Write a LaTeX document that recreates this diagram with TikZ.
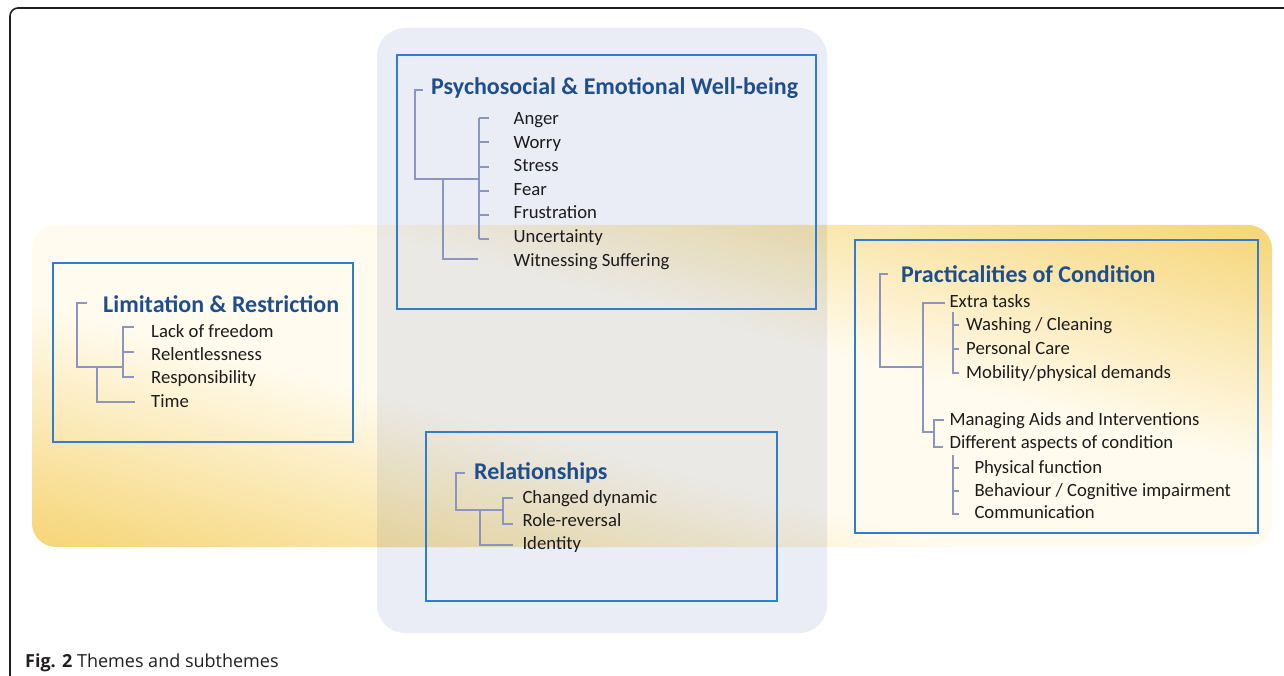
\documentclass[tikz,border=0pt]{standalone}
\usepackage{fontspec}
\setmainfont{Carlito}
\newfontfamily\capfont{Open Sans}
\definecolor{lav}{RGB}{234,237,246}
\definecolor{bandY}{RGB}{246,213,118}
\definecolor{bandM}{RGB}{255,251,239}
\definecolor{boxblue}{RGB}{46,125,209}
\definecolor{ttlblue}{RGB}{31,78,140}
\definecolor{treecol}{RGB}{141,148,189}
\definecolor{txt}{RGB}{28,28,28}
\definecolor{capc}{RGB}{35,31,32}
\pgfdeclareverticalshading{bandshade}{100bp}{color(0bp)=(bandY); color(25bp)=(bandY); color(44bp)=(bandM); color(56bp)=(bandM); color(75bp)=(bandY); color(100bp)=(bandY)}
\begin{document}
\begin{tikzpicture}[x=1pt,y=-1pt,
  item/.style={anchor=base west, inner sep=0pt, font=\fontsize{18.7}{22}\selectfont, text=txt},
  ttl/.style={anchor=base west, inner sep=0pt, font=\fontsize{24}{29}\selectfont\bfseries, text=ttlblue},
  tree/.style={draw=treecol, line width=2pt},
  themebox/.style={draw=boxblue, line width=2pt},
  frameline/.style={draw=capc, line width=1.6pt, rounded corners=8pt}]
\useasboundingbox (0,0) rectangle (1284,676);
\fill[white] (0,0) rectangle (1284,676);

% backgrounds
\fill[lav, rounded corners=28pt] (377,28) rectangle (827,633);
\begin{scope}[blend mode=multiply]
  \clip[rounded corners=24pt] (32,225) rectangle (1272,547);
  \begin{scope}[transform canvas={rotate around={-14.6:(652,386)}}]
    \shade[shading=bandshade] (-200,73.4) rectangle (1500,698.6);
  \end{scope}
\end{scope}

% outer frame
\coordinate (fr0) at (10,680);
\coordinate (fr1) at (10,8);
\coordinate (fr2) at (1290,8);
\draw[frameline] (fr0) -- (fr1) -- (fr2);

% ---------- Psychosocial & Emotional Well-being ----------
\draw[themebox] (397,55) rectangle (816,309);
\node[ttl] (psT) at (431,95) {Psychosocial \& Emotional Well-being};
\node[item] (ps1) at (513.5,125) {Anger};
\node[item] (ps2) at (513.5,148.5) {Worry};
\node[item] (ps3) at (513.5,172) {Stress};
\node[item] (ps4) at (513.5,195.5) {Fear};
\node[item] (ps5) at (513.5,219) {Frustration};
\node[item] (ps6) at (513.5,242.5) {Uncertainty};
\node[item] (ps7) at (513.5,266) {Witnessing Suffering};
\coordinate (psa) at (423,90);
\coordinate (psb) at (415,90);
\coordinate (psc) at (415,179);
\coordinate (psd) at (479,179);
\draw[tree] (psa) -- (psb) -- (psc) -- (psd);
\coordinate (psv0) at (479,118.3);
\coordinate (psv1) at (479,239.3);
\draw[tree] (psv0) -- (psv1);
\foreach \yy in {118.3,142.5,166.7,190.9,215.1,239.3}
  \draw[tree] (479,\yy) -- (489,\yy);
\coordinate (psw0) at (443,179);
\coordinate (psw1) at (443,259.3);
\coordinate (psw2) at (478,259.3);
\draw[tree] (psw0) -- (psw1) -- (psw2);

% ---------- Limitation & Restriction ----------
\draw[themebox] (53,263) rectangle (353,442);
\node[ttl] (lmT) at (103,312) {Limitation \& Restriction};
\node[item] (lm1) at (151,337.3) {Lack of freedom};
\node[item] (lm2) at (151,360.6) {Relentlessness};
\node[item] (lm3) at (151,383.9) {Responsibility};
\node[item] (lm4) at (151,407.2) {Time};
\coordinate (lma) at (87,303);
\coordinate (lmb) at (77,303);
\coordinate (lmc) at (77,367);
\coordinate (lmd) at (123,367);
\draw[tree] (lma) -- (lmb) -- (lmc) -- (lmd);
\coordinate (lme) at (134,327);
\coordinate (lmf) at (123,327);
\coordinate (lmg) at (123,377);
\coordinate (lmh) at (134,377);
\draw[tree] (lme) -- (lmf) -- (lmg) -- (lmh);
\coordinate (lmi) at (123,352);
\coordinate (lmj) at (134,352);
\draw[tree] (lmi) -- (lmj);
\coordinate (lmk) at (97,367);
\coordinate (lml) at (97,402);
\coordinate (lmm) at (135,402);
\draw[tree] (lmk) -- (lml) -- (lmm);

% ---------- Practicalities of Condition ----------
\draw[themebox] (855,240) rectangle (1258,533);
\node[ttl] (prT) at (901,282.7) {Practicalities of Condition};
\node[item] (pr1) at (949.3,307.3) {Extra tasks};
\node[item] (pr2) at (966,330.7) {Washing / Cleaning};
\node[item] (pr3) at (966,354) {Personal Care};
\node[item] (pr4) at (966,378.3) {Mobility/physical demands};
\node[item] (pr5) at (949.3,425) {Managing Aids and Interventions};
\node[item] (pr6) at (949.3,448.3) {Different aspects of condition};
\node[item] (pr7) at (974.3,473.3) {Physical function};
\node[item] (pr8) at (974.3,496) {Behaviour / Cognitive impairment};
\node[item] (pr9) at (974.3,518.8) {Communication};
\coordinate (pra) at (888,274);
\coordinate (prb) at (880,274);
\coordinate (prc) at (880,367);
\coordinate (prd) at (923,367);
\draw[tree] (pra) -- (prb) -- (prc) -- (prd);
\coordinate (pre) at (945,302.7);
\coordinate (prf) at (923,302.7);
\coordinate (prg) at (923,432.3);
\coordinate (prh) at (934,432.3);
\draw[tree] (pre) -- (prf) -- (prg) -- (prh);
\coordinate (pri) at (944,420);
\coordinate (prj) at (934,420);
\coordinate (prk) at (934,447);
\coordinate (prl) at (943,447);
\draw[tree] (pri) -- (prj) -- (prk) -- (prl);
\coordinate (prm) at (953.3,311.7);
\coordinate (prn) at (953.3,373.3);
\coordinate (pro) at (959.3,373.3);
\draw[tree] (prm) -- (prn) -- (pro);
\draw[tree] (953.3,325) -- (959.3,325);
\draw[tree] (953.3,349) -- (959.3,349);
\coordinate (prp) at (953.3,455);
\coordinate (prq) at (953.3,514);
\coordinate (prr) at (959.3,514);
\draw[tree] (prp) -- (prq) -- (prr);
\draw[tree] (953.3,467.7) -- (959.3,467.7);
\draw[tree] (953.3,491) -- (959.3,491);

% ---------- Relationships ----------
\draw[themebox] (426,432) rectangle (777,601);
\node[ttl] (rlT) at (474,479.3) {Relationships};
\node[item] (rl1) at (522.3,503.3) {Changed dynamic};
\node[item] (rl2) at (522.3,526.3) {Role-reversal};
\node[item] (rl3) at (522.3,549.3) {Identity};
\coordinate (rla) at (465,473.3);
\coordinate (rlb) at (456,473.3);
\coordinate (rlc) at (456,510);
\coordinate (rld) at (503.3,510);
\draw[tree] (rla) -- (rlb) -- (rlc) -- (rld);
\coordinate (rle) at (513.3,497.7);
\coordinate (rlf) at (503.3,497.7);
\coordinate (rlg) at (503.3,524);
\coordinate (rlh) at (513.3,524);
\draw[tree] (rle) -- (rlf) -- (rlg) -- (rlh);
\coordinate (rli) at (480,510);
\coordinate (rlj) at (480,545);
\coordinate (rlk) at (513.3,545);
\draw[tree] (rli) -- (rlj) -- (rlk);

% caption
\node[anchor=base west, inner sep=0pt, font=\capfont\fontsize{18}{21}\selectfont, text=capc] (cap) at (25,667.3) {\textbf{Fig. 2} Themes and subthemes};
\end{tikzpicture}
\end{document}
